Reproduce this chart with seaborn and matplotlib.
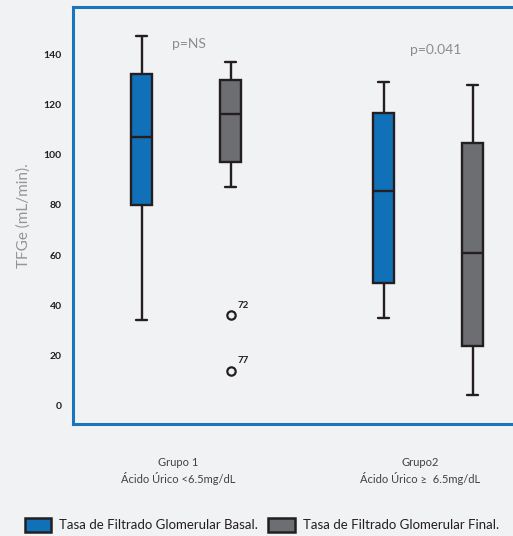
import numpy as np
import pandas as pd
import matplotlib
matplotlib.use("Agg")
import matplotlib.pyplot as plt
import matplotlib.transforms as mtransforms
from matplotlib.patches import Patch
import seaborn as sns

# ---------------- data ----------------
groups = ["Grupo 1\nÁcido Úrico <6.5mg/dL", "Grupo2\nÁcido Úrico \u2265  6.5mg/dL"]
series = ["Tasa de Filtrado Glomerular Basal.", "Tasa de Filtrado Glomerular Final."]

basal_low = [34, 35]
basal_q1 = [80, 49]
basal_med = [107, 85.5]
basal_q3 = [132, 116.5]
basal_high = [147, 129]
basal_outliers = [[], []]
basal_outlier_ids = [[], []]

final_low = [87, 4.5]
final_q1 = [97, 24]
final_med = [116, 61]
final_q3 = [129.5, 104.5]
final_high = [137, 127.5]
final_outliers = [[36, 14], []]
final_outlier_ids = [["72", "77"], []]

y_ticks = [0, 20, 40, 60, 80, 100, 120, 140]
p_texts = ["p=NS", "p=0.041"]
p_text_pos = [(0.01, 144), (1.03, 141.5)]

# ---------------- colours ----------------
BG = "#F1F2F4"
FRAME = "#1B75BC"
BLUE = "#1071B9"
GREY = "#6D6E71"
DARK = "#231F20"

sns.set_theme(style="white")
plt.rcParams["font.family"] = ["Lato", "DejaVu Sans"]


def sample_from_stats(low, q1, med, q3, high, fliers):
    """Build a sample whose quartiles / whiskers / fliers reproduce the stats."""
    below = sorted(fliers) + [low]
    b = len(below)
    return below + [q1] * b + [med] * b + [q3] * b + [high]


rows = []
for s, (lo, a, m, c, hi, fl) in zip(
    series,
    [
        (basal_low, basal_q1, basal_med, basal_q3, basal_high, basal_outliers),
        (final_low, final_q1, final_med, final_q3, final_high, final_outliers),
    ],
):
    for i, g in enumerate(groups):
        for v in sample_from_stats(lo[i], a[i], m[i], c[i], hi[i], fl[i]):
            rows.append({"grupo": g, "serie": s, "tfge": v})
df = pd.DataFrame(rows)

fig = plt.figure(figsize=(5.13, 5.36), dpi=100, facecolor=BG)
ax = fig.add_axes([73 / 513, 112 / 536, (530 - 73) / 513, 417 / 536])
ax.set_facecolor(BG)

sns.boxplot(
    data=df, x="grupo", y="tfge", hue="serie", order=groups, hue_order=series,
    palette=[BLUE, GREY], width=0.735, gap=0.764, linecolor=DARK, linewidth=1.7,
    whis=1.5, saturation=1, legend=False, ax=ax,
    flierprops=dict(marker="o", markerfacecolor="none", markeredgecolor=DARK,
                    markeredgewidth=1.6, markersize=6),
    medianprops=dict(color=DARK, linewidth=1.7),
)

# label the outliers with their case numbers
id_lookup = {}
for fl, ids in zip(final_outliers + basal_outliers, final_outlier_ids + basal_outlier_ids):
    for v, t in zip(fl, ids):
        id_lookup[v] = t
for ln in ax.lines:
    if ln.get_marker() == "o":
        for x, y in zip(ln.get_xdata(), ln.get_ydata()):
            if y in id_lookup:
                ax.annotate(id_lookup[y], (x, y), xytext=(5, 4), textcoords="offset points",
                            fontsize=7, fontweight="bold", color=DARK, ha="left", va="bottom")

for t, (x, y) in zip(p_texts, p_text_pos):
    ax.text(x, y, t, ha="center", va="center", fontsize=10, color="#8A8C8F")

ax.set_xlim(-0.467, 1.421)
ax.set_ylim(-7.2, 158.7)
ax.set_yticks(y_ticks)
ax.set_yticklabels([str(v) for v in y_ticks])
ax.tick_params(axis="y", length=0, pad=8, labelsize=7.5, labelcolor=DARK)
for lab in ax.get_yticklabels():
    lab.set_fontweight("bold")
ax.tick_params(axis="x", length=0, pad=24, labelsize=8, labelcolor="#414042")
offset = mtransforms.ScaledTranslation(-8 / 100, 0, fig.dpi_scale_trans)
for lab in ax.get_xticklabels():
    lab.set_linespacing(1.3)
    lab.set_transform(lab.get_transform() + offset)

ax.set_xlabel("")
ax.set_ylabel("TFGe (mL/min).", fontsize=11, color="#939598", labelpad=9)
ax.grid(False)

for side in ["left", "top", "bottom"]:
    ax.spines[side].set_color(FRAME)
    ax.spines[side].set_linewidth(2.2)
    ax.spines[side].set_visible(True)
ax.spines["right"].set_visible(False)

handles = [Patch(facecolor=c, edgecolor=DARK, linewidth=1.8) for c in [BLUE, GREY]]
fig.legend(handles, series, loc="center", bbox_to_anchor=(0.51, 11 / 536), ncol=2,
           frameon=False, fontsize=9.5, handlelength=2.0, handleheight=1.2,
           handletextpad=0.6, columnspacing=0.8, labelcolor="#231F20")

fig.savefig("out.png", dpi=100, facecolor=BG)
